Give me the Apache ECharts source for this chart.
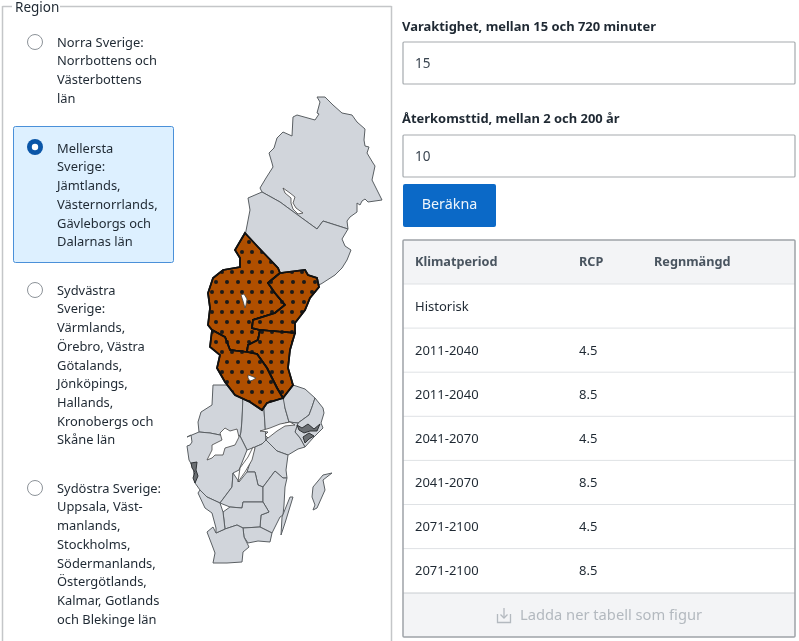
<!DOCTYPE html>
<html><head><meta charset="utf-8">
<style>html,body{margin:0;padding:0;background:#fff}#c{width:799px;height:641px}</style>
<script src="https://cdn.jsdelivr.net/npm/echarts@6/dist/echarts.min.js"></script>
</head><body><div id="c"></div>
<script>
const legendTitle = 'Region';
const regionOptions = [
  ['Norra Sverige:','Norrbottens och','Västerbottens','län'],
  ['Mellersta','Sverige:','Jämtlands,','Västernorrlands,','Gävleborgs och','Dalarnas län'],
  ['Sydvästra','Sverige:','Värmlands,','Örebro, Västra','Götalands,','Jönköpings,','Hallands,','Kronobergs och','Skåne län'],
  ['Sydöstra Sverige:','Uppsala, Väst-','manlands,','Stockholms,','Södermanlands,','Östergötlands,','Kalmar, Gotlands','och Blekinge län']
];
const regionOptionTops = [42,148,290,488];
const selectedOption = 1;
const durationLabel = 'Varaktighet, mellan 15 och 720 minuter';
const durationValue = '15';
const returnLabel = 'Återkomsttid, mellan 2 och 200 år';
const returnValue = '10';
const buttonLabel = 'Beräkna';
const tableHeads = ['Klimatperiod','RCP','Regnmängd'];
const tablePeriods = ['Historisk','2011-2040','2011-2040','2041-2070','2041-2070','2071-2100','2071-2100'];
const tableRcp = ['','4.5','8.5','4.5','8.5','4.5','8.5'];
const downloadLabel = 'Ladda ner tabell som figur';

/* outlines of the counties */
const grayRegions = {
  Norrbotten:[[262,192],[260,188],[266,178],[273,167],[272,163],[269,153],[274,148],[277,138],[283,132],[292,136],[293,117],[297,115],[315,120],[319,114],[317,113],[320,102],[317,97],[325,97],[333,105],[342,113],[352,115],[357,122],[365,129],[364,140],[365,146],[369,147],[367,153],[373,163],[375,166],[372,180],[382,200],[368,202],[365,199],[362,201],[360,205],[357,203],[357,212],[350,217],[347,221],[348,229],[323,221],[317,229],[295,213],[280,202]],
  Vasterbotten:[[262,192],[280,202],[295,213],[317,229],[323,221],[348,229],[342,239],[345,246],[351,250],[347,260],[342,268],[335,275],[321,284],[300,290],[260,270],[245,236],[250,210],[248,198]],
  Varmland:[[213,385],[212,405],[201,412],[198,422],[199,432],[210,433],[220,435],[230,435],[240,436],[241,432],[242,420],[243,402],[240,385]],
  Orebro:[[243,395],[242,420],[241,432],[240,436],[242,440],[247,450],[255,447],[262,444],[266,440],[265,425],[263,395]],
  Vastmanland:[[263,395],[285,390],[285,408],[289,422],[280,425],[272,432],[266,440],[265,425]],
  Uppsala:[[283,397],[293,385],[305,389],[315,398],[312,407],[309,415],[298,423],[289,422],[285,408]],
  Stockholm:[[315,398],[323,408],[324,413],[321,423],[323,428],[313,438],[305,447],[300,438],[295,432],[298,423],[309,415],[312,407]],
  Sodermanland:[[266,440],[272,432],[280,425],[289,422],[298,423],[295,432],[300,438],[305,447],[298,449],[288,455],[277,451]],
  Ostergotland:[[255,447],[262,444],[266,440],[277,451],[288,455],[286,470],[287,478],[283,478],[275,471],[263,487],[258,485],[255,472],[247,472]],
  VastraGotaland:[[187,437],[191,435],[192,442],[190,445],[187,446],[189,460],[193,467],[195,483],[200,490],[207,497],[220,503],[232,487],[233,473],[239,470],[247,450],[242,440],[240,436],[230,435],[220,435],[210,433],[199,432]],
  Jonkoping:[[233,473],[239,482],[247,472],[255,472],[258,485],[263,487],[263,502],[243,502],[242,508],[230,507],[220,503],[232,487]],
  Kalmar:[[263,487],[275,471],[283,478],[287,478],[285,487],[284,505],[283,515],[280,517],[272,533],[260,527],[261,515],[269,512],[263,502]],
  Kronoberg:[[223,512],[230,507],[242,508],[243,502],[263,502],[269,512],[261,515],[260,527],[243,528],[237,525],[225,529]],
  Blekinge:[[243,528],[260,527],[272,533],[270,542],[258,541],[248,543],[244,537]],
  Skane:[[207,532],[213,527],[216,533],[225,529],[237,525],[243,528],[244,537],[249,547],[243,552],[242,562],[227,563],[213,563],[215,553],[212,545]],
  Halland:[[200,490],[207,497],[220,503],[223,512],[225,529],[216,533],[216,528],[212,513],[205,508],[198,493]],
  Gotland:[[332,473],[323,475],[313,487],[312,497],[315,505],[313,510],[317,508],[325,490],[323,480]],
  Oland:[[293,497],[290,497],[282,517],[281,535],[285,523]]
};
const selectedRegions = {
  Jamtland:[[245,233],[258,247],[278,268],[280,273],[268,283],[275,293],[285,305],[275,313],[253,320],[252,328],[260,330],[258,340],[248,345],[247,352],[230,350],[225,337],[212,330],[208,325],[210,308],[208,293],[213,278],[223,270],[240,267],[240,258],[235,250]],
  Vasternorrland:[[280,273],[305,270],[308,275],[317,278],[319,287],[310,298],[305,310],[295,323],[295,333],[260,330],[252,328],[253,320],[275,313],[285,305],[275,293],[268,283]],
  Gavleborg:[[260,330],[295,333],[290,350],[288,368],[293,385],[283,398],[277,388],[267,368],[257,354],[247,352],[248,345],[258,340]],
  Dalarna:[[212,330],[225,337],[230,350],[247,352],[257,354],[267,368],[277,388],[283,398],[267,403],[262,410],[250,402],[235,395],[225,382],[217,368],[220,355],[210,347]]
};
const lakes = {
  Venern:[[207,460],[212,450],[212,445],[222,440],[220,433],[225,428],[230,431],[237,429],[239,437],[235,445],[225,448],[223,455],[215,455],[212,458]],
  Vettern:[[253,447],[248,457],[240,468],[238,482],[245,472],[252,460],[255,448]],
  Malaren:[[260,431],[270,428],[280,424],[290,422],[295,425],[285,426],[277,431],[268,438],[265,435],[268,432]],
  Hornavan:[[283,188],[290,193],[295,197],[293,203],[296,208],[303,213],[298,214],[293,209],[291,203],[291,198],[285,193]],
  Storsjon:[[241,295],[244,294],[247,299],[246,305],[245,308],[243,301]],
  Siljan:[[248,375],[251,376],[256,378],[253,380],[250,381],[248,378]]
};
const archipelagos = {
  Skargard1:[[297,425],[302,428],[308,424],[314,429],[320,424],[317,431],[310,431],[304,433],[299,430]],
  Skargard2:[[303,437],[309,433],[314,436],[309,439],[305,443]],
  Bohuslan:[[191,463],[197,462],[196,470],[198,476],[195,483],[193,478],[195,472],[192,468]]
};
const selectedNames = Object.keys(selectedRegions);
const lakeNames = Object.keys(lakes);
const archipelagoNames = Object.keys(archipelagos);

function feature(name, ring){
  return {type:'Feature',properties:{name:name},geometry:{type:'Polygon',coordinates:[ring.map(p=>[p[0],-p[1]])]}};
}
const geo = {type:'FeatureCollection',features:[
  ...Object.keys(grayRegions).map(k=>feature(k,grayRegions[k])),
  ...Object.keys(selectedRegions).map(k=>feature(k,selectedRegions[k])),
  ...lakeNames.map(k=>feature(k,lakes[k])),
  ...archipelagoNames.map(k=>feature(k,archipelagos[k]))
]};
echarts.registerMap('sverige', geo);

const FONT = '"Noto Sans", sans-serif';
const INK = '#1f2933';
const g = [];
function rect(x,y,w,h,fill,stroke,lw,r){
  g.push({type:'rect',silent:true,shape:{x,y,width:w,height:h,r:r||0},style:{fill:fill||'transparent',stroke:stroke||null,lineWidth:lw||1}});
}
function text(t,x,y,o){
  o=o||{};
  g.push({type:'text',silent:true,x,y:y+1,style:{text:t,fill:o.fill||INK,font:(o.weight||'400')+' '+(o.size||13)+'px '+FONT,textAlign:o.align||'left',textVerticalAlign:'middle'}});
}
function line(x1,y1,x2,y2,c,lw){
  g.push({type:'line',silent:true,shape:{x1,y1,x2,y2},style:{stroke:c,lineWidth:lw||1}});
}
// fieldset
const FS='#c4c6c8';
line(2.5,6.5,12,6.5,FS,1.5); line(60,6.5,391.5,6.5,FS,1.5);
line(2.5,6,2.5,641,FS,1.5); line(391.5,6,391.5,641,FS,1.5);
text(legendTitle,15,7,{size:13.5});
// options
rect(13.5,126.5,160,136,'#ddf0ff','#4a90d9',1,2);
regionOptions.forEach((ls,i)=>{
  const top=regionOptionTops[i];
  if(i===selectedOption){
    g.push({type:'circle',silent:true,shape:{cx:35,cy:top-1,r:8},style:{fill:'#0a56a8'}});
    g.push({type:'circle',silent:true,shape:{cx:35,cy:top-1,r:3.2},style:{fill:'#fff'}});
  } else {
    g.push({type:'circle',silent:true,shape:{cx:35,cy:top,r:7.5},style:{fill:'#fff',stroke:'#8d9399',lineWidth:1}});
  }
  ls.forEach((t,j)=>text(t,57,top+j*18.72,{size:12.9}));
});
// inputs
text(durationLabel,402,26,{weight:'700',size:12.95});
rect(403,42,392,42,'#fff','#a5aaae',1.2,1);
text(durationValue,415,63,{size:13.5,fill:'#3a4550'});
text(returnLabel,402,118,{weight:'700',size:12.95});
rect(403,135,392,42,'#fff','#a5aaae',1.2,1);
text(returnValue,415,156,{size:13.5,fill:'#3a4550'});
rect(403,184,93,43,'#0b69c7',null,0,2);
text(buttonLabel,449.5,204,{size:14.3,fill:'#eef5fc',align:'center'});
// table
rect(403,240,392,44,'#f3f4f6');
rect(403,593,392,44,'#f3f4f6');
const colX=[415,579,654];
tableHeads.forEach((t,i)=>text(t,colX[i],261.7,{weight:'700',size:12.7,fill:'#4a5560'}));
const ROW=44.1;
tablePeriods.forEach((p,i)=>{
  const cy=305.8+i*ROW;
  text(p,colX[0],cy,{size:13});
  if(tableRcp[i]) text(tableRcp[i],colX[1],cy,{size:13});
  line(403,284+i*ROW,795,284+i*ROW,'#dfe2e5',1);
});
line(403,593,795,593,'#c8ccd0',1);
rect(403,240,392,397,null,'#9ea3a8',1.5,1);
text(downloadLabel,520,614.5,{size:14.7,fill:'#b3b9bf'});
// download icon
g.push({type:'polyline',silent:true,shape:{points:[[497.5,614],[497.5,622.5],[510.5,622.5],[510.5,614]]},style:{stroke:'#b3b9bf',lineWidth:1.3,fill:'none'}});
g.push({type:'polyline',silent:true,shape:{points:[[504,608],[504,618]]},style:{stroke:'#b3b9bf',lineWidth:1.3,fill:'none'}});
g.push({type:'polyline',silent:true,shape:{points:[[500.5,614.5],[504,618],[507.5,614.5]]},style:{stroke:'#b3b9bf',lineWidth:1.3,fill:'none'}});

const grayStyle={areaColor:'#d1d5db',borderColor:'#5a5f63',borderWidth:1};
const orangeStyle={areaColor:'#b04f00',color:'#b04f00',borderColor:'#111',borderWidth:1.7,
  decal:{symbol:'circle',symbolSize:1,color:'#1a1a1a',dashArrayX:[[3.2,5.4],[0,4.3,3.2,1.1]],dashArrayY:[3.2,5.4],rotation:0}};
const lakeStyle={areaColor:'#fff',color:'#fff',borderColor:'#444',borderWidth:0.8};
const archipelagoStyle={areaColor:'#6b6f73',color:'#6b6f73',borderColor:'#2f3235',borderWidth:1};
const seriesData=[
  ...selectedNames.map(n=>({name:n,value:1,itemStyle:orangeStyle})),
  ...lakeNames.map(n=>({name:n,value:0,itemStyle:lakeStyle})),
  ...archipelagoNames.map(n=>({name:n,value:0,itemStyle:archipelagoStyle}))
];

const chart=echarts.init(document.getElementById('c'),null,{renderer:'canvas'});
chart.setOption({
  animation:false,
  backgroundColor:'#fff',
  tooltip:{show:false},
  graphic:{elements:g},
  series:[{
    type:'map',map:'sverige',aspectScale:1,roam:false,silent:true,
    layoutCenter:[(187+382)/2,(97+563)/2],layoutSize:466,
    label:{show:false},emphasis:{disabled:true},select:{disabled:true},
    itemStyle:grayStyle,
    data:seriesData
  }]
});
</script></body></html>
